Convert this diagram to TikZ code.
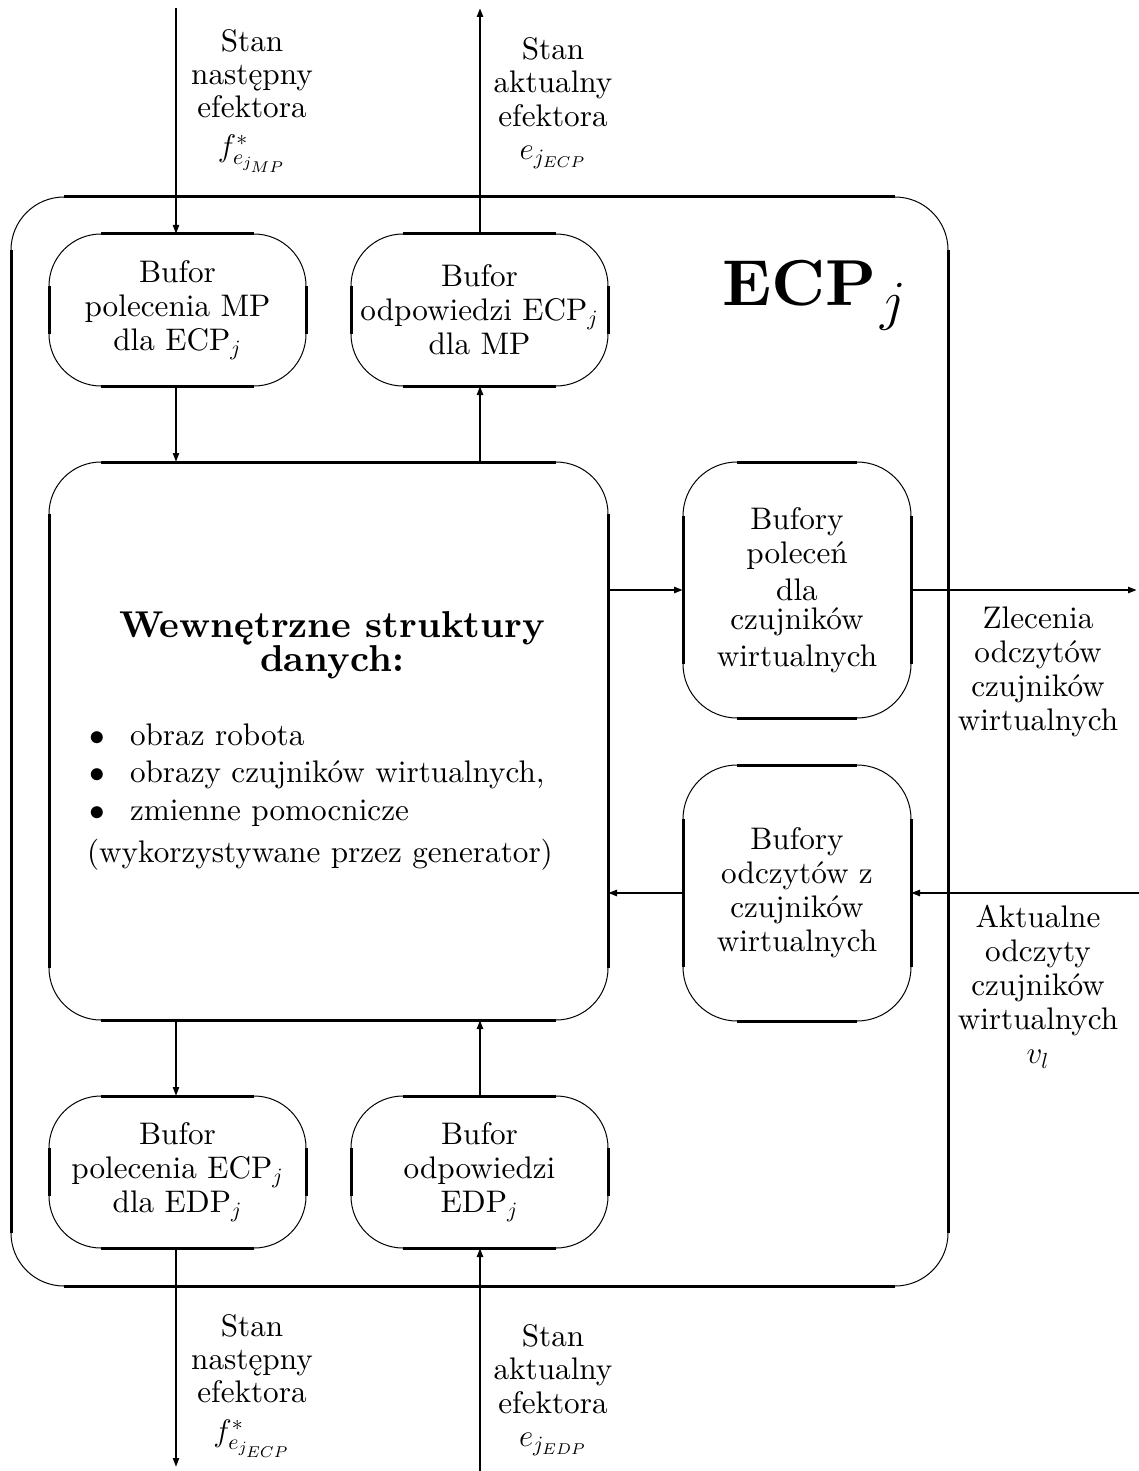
\RequirePackage{fix-cm}
\documentclass[tikz,border=0pt]{standalone}
\usepackage{fontspec}
\setmainfont{lmroman10}[Extension=.otf, UprightFont=*-regular, BoldFont=*-bold,
  ItalicFont=*-italic, BoldItalicFont=*-bolditalic]
\usetikzlibrary{arrows.meta}

% Rounded frame: thick straight sides, thin quarter-circle corners
\newcommand\rframe[2]{%
  \draw[edge] ([xshift=#2]#1.north west) -- ([xshift=-#2]#1.north east);
  \draw[edge] ([xshift=#2]#1.south west) -- ([xshift=-#2]#1.south east);
  \draw[edge] ([yshift=-#2]#1.north west) -- ([yshift=#2]#1.south west);
  \draw[edge] ([yshift=-#2]#1.north east) -- ([yshift=#2]#1.south east);
  \draw[corner] ([yshift=-#2]#1.north west) arc[start angle=180,end angle=90,radius=#2];
  \draw[corner] ([xshift=-#2]#1.north east) arc[start angle=90,end angle=0,radius=#2];
  \draw[corner] ([yshift=#2]#1.south east) arc[start angle=0,end angle=-90,radius=#2];
  \draw[corner] ([xshift=#2]#1.south west) arc[start angle=270,end angle=180,radius=#2];
}

\begin{document}
\begin{tikzpicture}[x=0.5pt,y=0.5pt,
  every node/.style={inner sep=0pt, outer sep=0pt},
  txt/.style={align=center, font=\fontsize{15.6}{17}\selectfont},
  lbl/.style={align=center, font=\fontsize{15.6}{16.6}\selectfont},
  boxn/.style={rectangle, align=center, font=\fontsize{15.6}{17}\selectfont},
  edge/.style={line width=1.5pt},
  corner/.style={line width=0.5pt},
  flow/.style={line width=1pt, -{Triangle[length=4.5pt,width=3pt]}},
  flowb/.style={line width=1.4pt, -{Triangle[length=4.5pt,width=3pt]}},
]
\useasboundingbox (0,0) rectangle (1139,-1471);

% ---- frames ----
\node[minimum width=468.5pt, minimum height=544.5pt] (ecp) at (479.5,-741.5) {};
\node[boxn, minimum width=128.5pt, minimum height=76pt] (mpin) at (177.5,-310)
  {Bufor\\polecenia MP\\dla ECP$_j$};
\node[boxn, minimum width=128.5pt, minimum height=76pt] (mpout) at (479.5,-310)
  {Bufor\\odpowiedzi ECP$_j$\\dla MP};
\node[minimum width=279.5pt, minimum height=279pt] (core) at (328.5,-741) {};
\node[boxn, minimum width=114pt, minimum height=128pt] (vsout) at (797,-590)
  {Bufory\\poleceń\\[1.5pt]dla\\[-2.5pt]czujników\\[1.5pt]wirtualnych};
\node[boxn, minimum width=114pt, minimum height=128pt] (vsin) at (797,-893)
  {Bufory\\odczytów z\\czujników\\wirtualnych};
\node[boxn, minimum width=128.5pt, minimum height=76pt] (edpout) at (177.5,-1172)
  {Bufor\\polecenia ECP$_j$\\dla EDP$_j$};
\node[boxn, minimum width=128.5pt, minimum height=76pt] (edpin) at (479.5,-1172)
  {Bufor\\odpowiedzi\\EDP$_j$};

\rframe{ecp}{26.5pt}
\rframe{mpin}{26pt}
\rframe{mpout}{26pt}
\rframe{core}{26pt}
\rframe{vsout}{27pt}
\rframe{vsin}{27pt}
\rframe{edpout}{26pt}
\rframe{edpin}{26pt}

% ---- title ----
\node[anchor=base west] (title) at (722,-305)
  {{\fontsize{32.5}{33}\selectfont\bfseries ECP}\kern2pt\raisebox{-7pt}{\fontsize{27.6}{28}\selectfont$j$}};

% ---- internal data structures ----
\node[font=\fontsize{18.7}{17}\selectfont\bfseries, align=center] (head) at (332,-645)
  {Wewnętrzne struktury\\danych:};
\node[txt, anchor=base] (d1) at (97,-745) {$\bullet$};
\node[txt, anchor=base west] (i1) at (130,-745) {obraz robota};
\node[txt, anchor=base] (d2) at (97,-782) {$\bullet$};
\node[txt, anchor=base west] (i2) at (130,-782) {obrazy czujników wirtualnych,};
\node[txt, anchor=base] (d3) at (97,-820) {$\bullet$};
\node[txt, anchor=base west] (i3) at (130,-820) {zmienne pomocnicze};
\node[txt, anchor=base west] (i4) at (87,-862) {(wykorzystywane przez generator)};

% ---- outside labels ----
\node[lbl] (l1) at (252,-101) {Stan\\następny\\efektora\\[3pt]$f^*_{e_{j_{MP}}}$};
\node[lbl] (l2) at (553,-103) {Stan\\aktualny\\efektora\\$e_{j_{ECP}}$};
\node[lbl] (l3) at (252,-1386) {Stan\\następny\\efektora\\[3pt]$f^*_{e_{j_{ECP}}}$};
\node[lbl] (l4) at (553,-1390) {Stan\\aktualny\\efektora\\$e_{j_{EDP}}$};
\node[txt] (l5) at (1038,-672) {Zlecenia\\odczytów\\czujników\\wirtualnych};
\node[txt] (l6) at (1038,-987) {Aktualne\\odczyty\\czujników\\wirtualnych\\$v_l$};

% ---- connectors ----
\coordinate (tl) at (176,-8);
\coordinate (bl) at (176,-1467);
\coordinate (tr) at (480,-8);
\coordinate (br) at (480,-1471);
\coordinate (ro) at (1137,-590);
\coordinate (ri) at (1139,-893);

\draw[flow] (tl) -- (tl |- mpin.north);
\draw[flow] (mpin.south -| tl) -- (tl |- core.north);
\draw[flow] (core.south -| tl) -- (tl |- edpout.north);
\draw[flow] (edpout.south -| bl) -- (bl);

\draw[flowb] (mpout.north -| tr) -- (tr);
\draw[flowb] (core.north -| tr) -- (tr |- mpout.south);
\draw[flowb] (edpin.north -| tr) -- (tr |- core.south);
\draw[flowb] (br) -- (br |- edpin.south);

\draw[flowb] (core.east |- vsout.west) -- (vsout.west);
\draw[flowb] (vsout.east) -- (ro);
\draw[flowb] (ri) -- (vsin.east);
\draw[flowb] (vsin.west) -- (core.east |- vsin.west);
\end{tikzpicture}
\end{document}
